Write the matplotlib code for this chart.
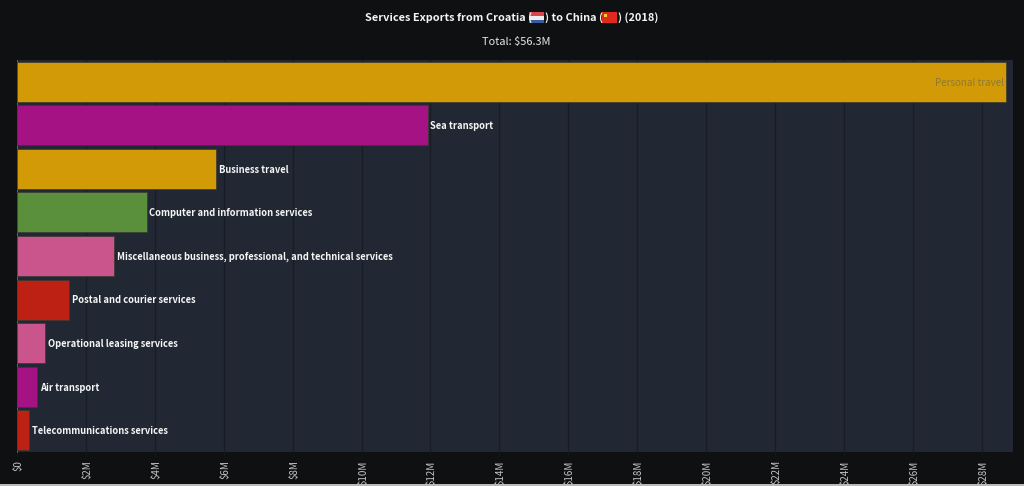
import matplotlib
matplotlib.use('Agg')
import matplotlib.pyplot as plt
from matplotlib.patches import Rectangle
from matplotlib.transforms import ScaledTranslation

services = ['Personal travel', 'Sea transport', 'Business travel',
            'Computer and information services',
            'Miscellaneous business, professional, and technical services',
            'Postal and courier services', 'Operational leasing services',
            'Air transport', 'Telecommunications services']
values = [28.72, 11.92, 5.78, 3.76, 2.83, 1.52, 0.81, 0.58, 0.35]
bar_colors = ['#D29A06', '#A51284', '#D29A06', '#5A8F3C', '#C9558C',
              '#BC2114', '#C9558C', '#A51284', '#BC2114']
ticks = list(range(0, 30, 2))
tick_labels = [f'${t}M' if t else '$0' for t in ticks]

W, H = 1024, 486
plt.rcParams['font.family'] = ['Noto Sans CJK SC', 'DejaVu Sans']

fig = plt.figure(figsize=(W / 100, H / 100), dpi=100, facecolor='#0E1012')
ax = fig.add_axes([17 / W, 1 - 452 / H, (1013 - 17) / W, (452 - 60) / H])
ax.set_facecolor('#222833')

# bars
y = range(len(services))
ax.barh(y, values, height=0.92, color=bar_colors, edgecolor='#3a3a32', linewidth=0.5, zorder=3)
ax.set_xlim(0, (1013 - 17) / 34.45)
ax.set_ylim(len(services) - 0.5, -0.5)
ax.set_yticks([])
ax.set_xticks(ticks)
ax.set_xticklabels(tick_labels, rotation=90, fontsize=7, color='#c4c6c9')
ax.tick_params(axis='x', length=3, width=0.6, color='#15181f', pad=3)
# the rotated labels sit a little left of their ticks otherwise
nudge = ScaledTranslation(1.5 / 100, 0, fig.dpi_scale_trans)
for lab in ax.get_xticklabels():
    lab.set_transform(lab.get_transform() + nudge)
ax.grid(axis='x', color='#181c24', linewidth=1, zorder=1)
for s in ax.spines.values():
    s.set_visible(False)
ax.spines['left'].set_visible(True)
ax.spines['left'].set_color('#6b7078')
ax.spines['left'].set_linewidth(0.6)

# labels
for i, (name, v) in enumerate(zip(services, values)):
    if i == 0:
        ax.text(v - 0.07, i + 0.02, name, ha='right', va='center', fontsize=7.1, color='#8f7a30', zorder=4)
    else:
        ax.text(v + 0.08, i + 0.02, name, ha='left', va='center', fontsize=6.75, color='#f6f6f6',
                fontweight='bold', zorder=4)

# title, pieces placed around the flags
def title_piece(x, s, ha='left'):
    fig.text(x / W, 1 - 17.5 / H, s, ha=ha, va='center', fontsize=7.9, color='#f4f4f4', fontweight='bold')

title_piece(365, 'Services Exports from Croatia (')
title_piece(545, ') to China (')
title_piece(618, ') (2018)')
fig.text(516 / W, 1 - 42 / H, 'Total: $56.3M', ha='center', va='center', fontsize=7.9, color='#e8e8e8')

def flag(x, w, top, colors):
    h = 11 / len(colors)
    for k, c in enumerate(colors):
        fig.add_artist(Rectangle((x / W, 1 - (top + (k + 1) * h) / H), w / W, h / H,
                                 transform=fig.transFigure, color=c, lw=0))

flag(529, 15, 12.5, ['#D8464E', '#ECECF2', '#3A5A9E'])
flag(602, 15, 12.5, ['#E02A20'])
fig.add_artist(Rectangle((604 / W, 1 - 17 / H), 3 / W, 3 / H, transform=fig.transFigure,
                         color='#F5D020', lw=0))

# strip at the bottom edge
fig.add_artist(Rectangle((0, 0), 1, 2 / H, transform=fig.transFigure, color='#B9B9B9', lw=0))

fig.savefig('out.png', dpi=100, facecolor=fig.get_facecolor())
